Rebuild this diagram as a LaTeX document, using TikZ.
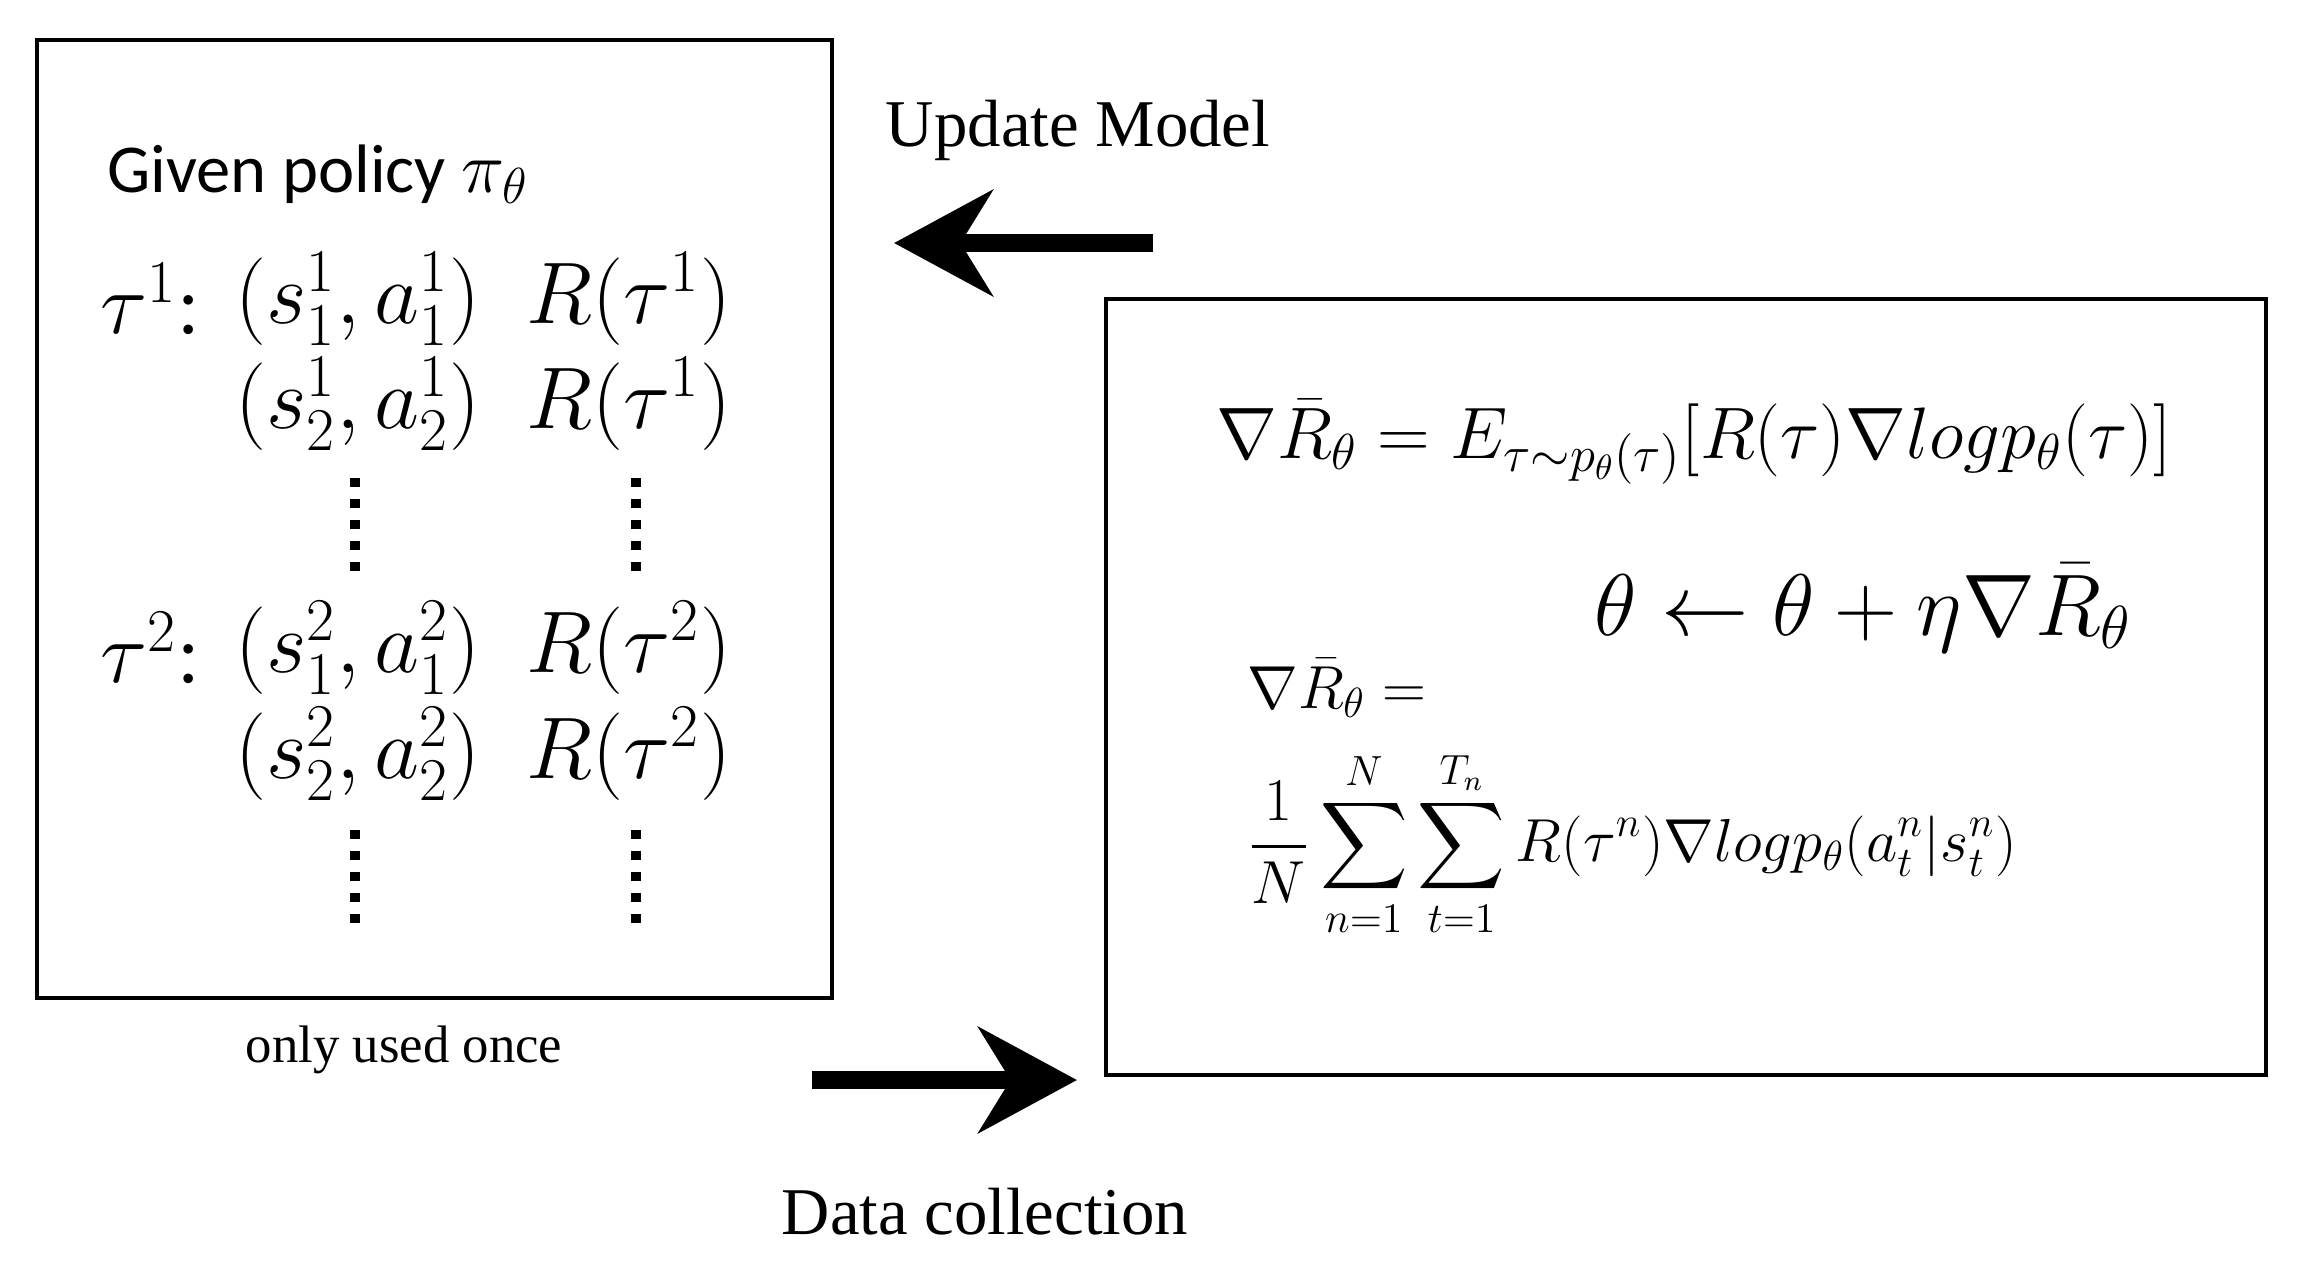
\documentclass[tikz,border=0pt]{standalone}
\usepackage{fontspec}
\setmainfont{Liberation Serif}
\newfontfamily\calib{Carlito}
\usepackage{amsmath}
\usetikzlibrary{arrows.meta,fit}
\begin{document}
\begin{tikzpicture}[x=0.01cm,y=-0.01cm,
    frame/.style={draw,line width=1.3pt,inner sep=0pt},
    flow/.style={line width=5pt,-{Stealth[length=28pt,width=30pt]}},
    lbl/.style={font=\fontsize{19}{23}\selectfont},
    mrow/.style={font=\fontsize{23}{27}\selectfont,anchor=center},
    vdots/.style={line width=2.6pt,dash pattern=on 2.5pt off 3.5pt}
]
\useasboundingbox (0,0) rectangle (2298,1262);

% left panel
\coordinate (lnw) at (37,40);
\coordinate (lse) at (832,998);
\node[frame,fit=(lnw)(lse)] (left) {};
\node[anchor=west,font=\calib\fontsize{19.5}{23}\selectfont] (given) at (95,174) {Given policy $\pi_\theta$};
\foreach \y/\k/\i/\lab in {299/1/1/{$\tau^1$:},404/1/2/,648/2/1/{$\tau^2$:},754/2/2/}{
  \node[mrow] (t\k\i) at (150,\y) {\lab};
  \node[mrow] (p\k\i) at (358,\y) {$(s^{\k}_{\i},a^{\k}_{\i})$};
  \node[mrow] (r\k\i) at (629,\y) {$R(\tau^{\k})$};
}
\foreach \x in {355,636}{
  \draw[vdots] (\x,478) -- (\x,575);
  \draw[vdots] (\x,830) -- (\x,925);
}
\node[font=\fontsize{15}{18}\selectfont] (once) at (404,1050) {only used once};

% right panel
\coordinate (rnw) at (1106,299);
\coordinate (rse) at (2266,1075);
\node[frame,fit=(rnw)(rse)] (right) {};
\node[font=\fontsize{20.5}{24}\selectfont] (grad) at (1694,442)
  {$\nabla\bar{R}_\theta = E_{\tau\sim p_\theta(\tau)}[R(\tau)\nabla log p_\theta(\tau)]$};
\node[font=\fontsize{23.5}{28}\selectfont] (upd) at (1863,608)
  {$\theta \leftarrow \theta + \eta\nabla\bar{R}_\theta$};
\node[anchor=west,font=\fontsize{17}{20}\selectfont] (gradb) at (1235,688) {$\nabla\bar{R}_\theta =$};
\node[anchor=west,font=\fontsize{17}{20}\selectfont] (sum) at (1235,844)
  {$\displaystyle\frac{1}{N}\sum_{n=1}^{N}\sum_{t=1}^{T_n}R(\tau^n)\nabla log p_\theta(a^n_t|s^n_t)$};

% arrows and labels
\coordinate (ustart) at (1153,243);
\coordinate (uend) at (894,243);
\coordinate (dstart) at (812,1080);
\coordinate (dend) at (1077,1080);
\draw[flow] (ustart) -- (uend);
\draw[flow] (dstart) -- (dend);
\node[lbl] (umodel) at (1078,130) {Update Model};
\node[lbl] (dcoll) at (985,1212) {Data collection};
\end{tikzpicture}
\end{document}
